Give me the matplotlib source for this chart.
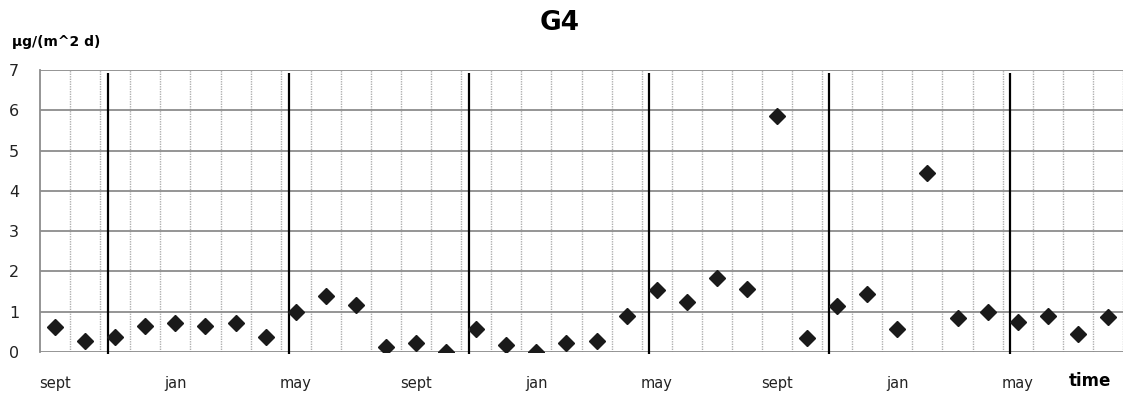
import numpy as np
import matplotlib.pyplot as plt

# monthly values, sept (year 1) .. aug (year 3)
values = [0.62, 0.27, 0.37, 0.65, 0.72, 0.65, 0.72, 0.37, 1.00, 1.38, 1.17, 0.12,
          0.22, 0.00, 0.57, 0.18, 0.00, 0.22, 0.28, 0.90, 1.55, 1.25, 1.83, 1.57,
          5.85, 0.35, 1.15, 1.43, 0.58, 4.45, 0.85, 1.00, 0.75, 0.90, 0.45, 0.88]
tick_labels = ['sept', 'jan', 'may'] * 3
tick_pos = [0, 4, 8, 12, 16, 20, 24, 28, 32]
sep_pos = [2.27, 8.27, 14.27, 20.26, 26.24, 32.25]

n = len(values)
x = np.arange(n) + 0.5

fig = plt.figure(figsize=(11.43, 3.96), dpi=100)
ax = fig.add_axes([0.035, 0.111, 0.9475, 0.712])

# grid
for k in range(1, n + 1):
    ax.axvline(k, color='#b0b0b0', lw=1.0, ls=(0, (1, 0.8)), zorder=1)
for yv in range(0, 8):
    ax.axhline(yv, color='#8c8c8c', lw=1.3, zorder=1)

ax.vlines(sep_pos, -0.05, 6.92, color='black', lw=1.6, zorder=2, clip_on=False)

ax.plot(x, values, 'D', color='#1a1a1a', markersize=8.5, zorder=3)

ax.set_xlim(0, n)
ax.set_ylim(0, 7)
for s in ['top', 'right', 'bottom']:
    ax.spines[s].set_visible(False)
ax.spines['left'].set_color('#8c8c8c')
ax.spines['left'].set_linewidth(1.3)

ax.set_yticks(range(0, 8))
ax.tick_params(axis='y', length=0, pad=15, labelsize=11.5, labelcolor='#222222')
ax.set_xticks(np.array(tick_pos) + 0.5)
ax.set_xticklabels(tick_labels)
ax.tick_params(axis='x', length=0, pad=17, labelsize=10.5, labelcolor='#222222')

fig.text(0.490, 0.943, 'G4', fontsize=19, fontweight='bold', ha='center', va='center')
fig.text(0.0105, 0.894, 'µg/(m^2 d)', fontsize=10, fontweight='bold', ha='left', va='center')
fig.text(0.954, 0.038, 'time', fontsize=12, fontweight='bold', ha='center', va='center')

fig.savefig('out.png', dpi=100)
